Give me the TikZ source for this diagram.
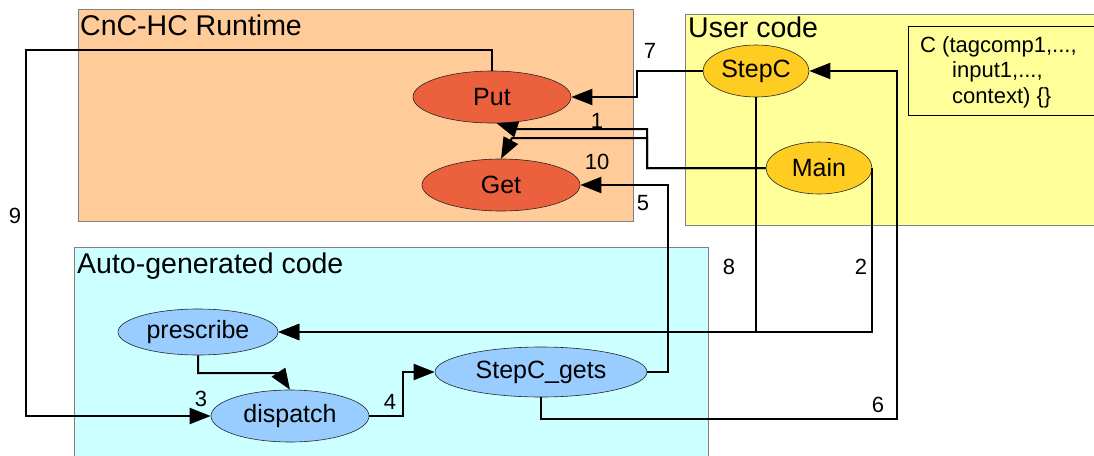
\documentclass[tikz,border=0pt]{standalone}
\usepackage{fontspec}
\setmainfont{Liberation Sans}
\usetikzlibrary{arrows.meta,shapes.geometric}

\definecolor{runtimebg}{HTML}{FFCC99}
\definecolor{userbg}{HTML}{FFFF99}
\definecolor{autobg}{HTML}{CCFFFF}
\definecolor{rtnode}{HTML}{EB613D}
\definecolor{usernode}{HTML}{FFCC22}
\definecolor{autonode}{HTML}{99CCFF}

\begin{document}
\begin{tikzpicture}[x=1pt,y=-1pt,
  region/.style={draw=black!50, line width=0.8pt},
  title/.style={anchor=base west, inner sep=0pt, font=\fontsize{28.5}{30}\selectfont},
  codetext/.style={anchor=base west, inner sep=0pt, font=\fontsize{22}{24}\selectfont},
  oval/.style={ellipse, draw=black!85, line width=0.6pt, inner sep=0pt,
    font=\fontsize{25}{27}\selectfont},
  rtoval/.style={oval, fill=rtnode, minimum width=158pt, minimum height=52pt},
  useroval/.style={oval, fill=usernode, minimum width=106pt, minimum height=52pt},
  autooval/.style={oval, fill=autonode},
  link/.style={line width=2pt, line join=miter, -{Triangle[length=21pt,width=16pt]}},
  num/.style={inner sep=0pt, font=\fontsize{22}{24}\selectfont},
]

\useasboundingbox (0,0) rectangle (1094,455);

% regions
\path[region, fill=runtimebg] (78,9) rectangle (633,221);
\path[region, fill=userbg] (685,14) rectangle (1100,225);
\path[region, fill=autobg] (74.5,247) rectangle (708,460);
\path[draw=black, line width=0.8pt] (908,26) rectangle (1100,115);

\node[title] (trt) at (80,35) {CnC-HC Runtime};
\node[title] (tuser) at (688,37) {User code};
\node[title] (tauto) at (77,273) {Auto-generated code};

\node[codetext] (sig1) at (920,52) {C (tagcomp1,...,};
\node[codetext] (sig2) at (952,77.5) {input1,...,};
\node[codetext] (sig3) at (952,103) {context) \{\}};

% processes
\node[rtoval] (put) at (492,97) {Put};
\node[rtoval] (get) at (501,185) {Get};
\node[useroval] (stepc) at (756,71) {StepC};
\node[useroval] (main) at (819,168) {Main};
\node[autooval, minimum width=160pt, minimum height=46pt] (prescribe) at (198,332) {prescribe};
\node[autooval, minimum width=158pt, minimum height=52pt] (dispatch) at (290,416) {dispatch};
\node[autooval, minimum width=212pt, minimum height=50pt] (gets) at (541,372) {StepC\_gets};

% bend points
\coordinate (b9) at (26,50);
\coordinate (b7) at (637,97);
\coordinate (b1a) at (647,129);
\coordinate (b1b) at (515,129);
\coordinate (b1c) at (647,138);
\coordinate (b1d) at (512,138);
\coordinate (b5) at (668,185);
\coordinate (b6) at (897,419);
\coordinate (b3) at (279,373);
\coordinate (b4) at (403,372);

% connectors
\draw[link] (put.north) |- (b9) |- (dispatch.west);
\draw[link] (stepc.west) -| (b7) -- (put.east);
\draw[link] (main.west) -| (b1a) -- (b1b) -- (put.280);
\draw[link] (main.west) -| (b1c) -- (b1d) -- (get.north);
\draw[link] (gets.east) -| (b5) -- (get.east);
\draw[link] (gets.south) |- (b6) |- (stepc.east);
\draw[link] (stepc.south) |- (prescribe.east);
\draw[link] (main.east) |- (prescribe.east);
\draw[link] (prescribe.south) |- (b3) -- (dispatch.north);
\draw[link] (dispatch.east) -| (b4) -- (gets.west);

% step numbers
\node[num] (n1) at (597,121) {1};
\node[num] (n2) at (861,267) {2};
\node[num] (n3) at (201,399) {3};
\node[num] (n4) at (390,402) {4};
\node[num] (n5) at (643,203) {5};
\node[num] (n6) at (878,405) {6};
\node[num] (n7) at (650,51) {7};
\node[num] (n8) at (729,267) {8};
\node[num] (n9) at (15,216) {9};
\node[num] (n10) at (597,162) {10};
\end{tikzpicture}
\end{document}
